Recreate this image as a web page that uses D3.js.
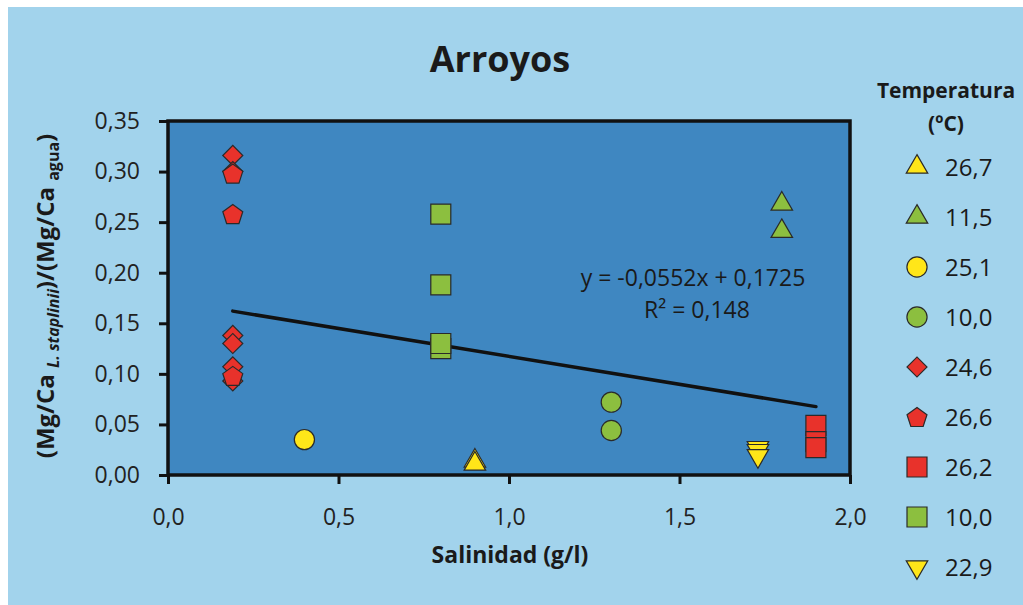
<!DOCTYPE html>
<html>
<head>
<meta charset="utf-8">
<script src="https://cdn.jsdelivr.net/npm/d3@7"></script>
<style>
  body { margin: 0; background: #fff; }
  svg { display: block; font-family: "Open Sans", "DejaVu Sans", sans-serif; }
</style>
</head>
<body>
<div id="chart"></div>
<script>
// legend order / labels
const legendLabels = ["26,7", "11,5", "25,1", "10,0", "24,6", "26,6", "26,2", "10,0", "22,9"];
const legendShapes = ["triUp", "triUp", "circle", "circle", "diamond", "pentagon", "square", "square", "triDown"];
const legendColors = ["yellow", "green", "yellow", "green", "red", "red", "red", "green", "yellow"];

// series values (salinity g/l, Mg/Ca ratio)
const s267x = [0.90, 0.90];
const s267y = [0.014, 0.011];
const s115x = [1.80, 1.80];
const s115y = [0.268, 0.241];
const s251x = [0.40];
const s251y = [0.035];
const s100cx = [1.30, 1.30];
const s100cy = [0.072, 0.044];
const s246x = [0.19, 0.19, 0.19, 0.19, 0.19, 0.19];
const s246y = [0.316, 0.300, 0.138, 0.130, 0.107, 0.093];
const s266x = [0.19, 0.19, 0.19];
const s266y = [0.298, 0.258, 0.098];
const s262x = [1.90, 1.90, 1.90];
const s262y = [0.049, 0.033, 0.027];
const s100sx = [0.80, 0.80, 0.80, 0.80];
const s100sy = [0.258, 0.188, 0.125, 0.130];
const s229x = [1.73, 1.73, 1.73];
const s229y = [0.027, 0.024, 0.019];

// trendline
const trendX = [0.19, 1.90];
const trendCoef = [-0.0552, 0.1725];

const xTicks = [0, 0.5, 1.0, 1.5, 2.0];
const yTicks = [0, 0.05, 0.10, 0.15, 0.20, 0.25, 0.30, 0.35];

const colors = { yellow: "#ffe619", green: "#8cbf3f", red: "#e8322b" };

const seriesList = [
  { x: s100sx, y: s100sy, shape: "square", color: "green" },
  { x: s246x, y: s246y, shape: "diamond", color: "red" },
  { x: s266x, y: s266y, shape: "pentagon", color: "red" },
  { x: s251x, y: s251y, shape: "circle", color: "yellow" },
  { x: s267x, y: s267y, shape: "triUp", color: "yellow" },
  { x: s115x, y: s115y, shape: "triUp", color: "green" },
  { x: s100cx, y: s100cy, shape: "circle", color: "green" },
  { x: s229x, y: s229y, shape: "triDown", color: "yellow" },
  { x: s262x, y: s262y, shape: "square", color: "red" }
];

const width = 1023;
const height = 605;
const plot = { left: 168, right: 850, top: 121, bottom: 475 };

const locale = d3.formatLocale({ decimal: ",", thousands: ".", grouping: [3], currency: ["", ""] });

function pentagonPath(r) {
  let pts = d3.range(5).map(function (i) {
    let a = -Math.PI / 2 + i * 2 * Math.PI / 5;
    return [r * Math.cos(a), r * Math.sin(a) + 1];
  });
  return "M" + pts.join("L") + "Z";
}

function shapePath(shape) {
  if (shape == "square") return d3.symbol().type(d3.symbolSquare).size(400)();
  if (shape == "diamond") return d3.symbol().type(d3.symbolSquare).size(200)();
  if (shape == "circle") return d3.symbol().type(d3.symbolCircle).size(320)();
  if (shape == "triUp" || shape == "triDown") return d3.symbol().type(d3.symbolTriangle).size(200)();
  return pentagonPath(10.5);
}

function shapeRotate(shape) {
  if (shape == "diamond") return " rotate(45)";
  if (shape == "triDown") return " rotate(180)";
  return "";
}

let xScale = d3.scaleLinear().domain([0, 2]).range([plot.left, plot.right]);
let yScale = d3.scaleLinear().domain([0, 0.35]).range([plot.bottom, plot.top]);

let svg = d3.select("#chart").append("svg")
  .attr("width", width)
  .attr("height", height);

svg.append("rect")
  .attr("x", 8).attr("y", 7)
  .attr("width", width - 8).attr("height", height - 7)
  .attr("fill", "#a2d3ec");

svg.append("rect")
  .attr("x", plot.left).attr("y", plot.top)
  .attr("width", plot.right - plot.left).attr("height", plot.bottom - plot.top)
  .attr("fill", "#3f87c1")
  .attr("stroke", "#111")
  .attr("stroke-width", 3.5);

let xAxis = d3.axisBottom(xScale).tickValues(xTicks)
  .tickFormat(locale.format(".1f")).tickSizeInner(9).tickSizeOuter(0).tickPadding(25);
let yAxis = d3.axisLeft(yScale).tickValues(yTicks)
  .tickFormat(locale.format(".2f")).tickSizeInner(9).tickSizeOuter(0).tickPadding(19);

let gx = svg.append("g")
  .attr("transform", "translate(0," + plot.bottom + ")")
  .call(xAxis);
let gy = svg.append("g")
  .attr("transform", "translate(" + plot.left + ",0)")
  .call(yAxis);

[gx, gy].forEach(function (g) {
  g.select(".domain").remove();
  g.selectAll(".tick line").attr("stroke", "#111").attr("stroke-width", 3);
  g.selectAll(".tick text")
    .attr("fill", "#222")
    .style("font-size", "23px")
    .style("font-family", "'Open Sans', sans-serif");
});

// trendline
svg.append("line")
  .attr("x1", xScale(trendX[0]))
  .attr("y1", yScale(trendCoef[0] * trendX[0] + trendCoef[1]))
  .attr("x2", xScale(trendX[1]))
  .attr("y2", yScale(trendCoef[0] * trendX[1] + trendCoef[1]))
  .attr("stroke", "#111")
  .attr("stroke-width", 3.5)
  .attr("stroke-linecap", "round");

// points
seriesList.forEach(function (s) {
  svg.append("g").selectAll("path")
    .data(s.x.map((v, i) => [v, s.y[i]]))
    .enter()
    .append("path")
    .attr("d", shapePath(s.shape))
    .attr("transform", (d) => "translate(" + xScale(d[0]) + "," + yScale(d[1]) + ")" + shapeRotate(s.shape))
    .attr("fill", colors[s.color])
    .attr("stroke", "#2a2a2a")
    .attr("stroke-width", 1.2);
});

// equation
svg.append("text")
  .attr("x", 693).attr("y", 286)
  .attr("text-anchor", "middle")
  .style("font-size", "23px")
  .attr("fill", "#1a1a1a")
  .text("y = -0,0552x + 0,1725");
svg.append("text")
  .attr("x", 697).attr("y", 318)
  .attr("text-anchor", "middle")
  .style("font-size", "23px")
  .attr("fill", "#1a1a1a")
  .text("R² = 0,148");

// title
svg.append("text")
  .attr("x", 500).attr("y", 72)
  .attr("text-anchor", "middle")
  .style("font-size", "36px")
  .style("font-weight", "bold")
  .attr("fill", "#1a1a1a")
  .text("Arroyos");

// x axis title
svg.append("text")
  .attr("x", 510).attr("y", 563)
  .attr("text-anchor", "middle")
  .style("font-size", "23px")
  .style("font-weight", "bold")
  .attr("fill", "#1a1a1a")
  .text("Salinidad (g/l)");

// y axis title
let yt = svg.append("text")
  .attr("transform", "translate(54,296) rotate(-90)")
  .attr("text-anchor", "middle")
  .style("font-size", "24px")
  .style("font-weight", "bold")
  .attr("fill", "#1a1a1a");
yt.append("tspan").text("(Mg/Ca ");
yt.append("tspan").attr("dy", 5).style("font-size", "16px").style("font-style", "italic").text("L. staplinii");
yt.append("tspan").attr("dy", -5).text(")/(Mg/Ca ");
yt.append("tspan").attr("dy", 5).style("font-size", "16px").text("agua");
yt.append("tspan").attr("dy", -5).text(")");

// legend
svg.append("text")
  .attr("x", 946).attr("y", 98)
  .attr("text-anchor", "middle")
  .style("font-size", "21px")
  .style("font-weight", "bold")
  .attr("fill", "#1a1a1a")
  .text("Temperatura");
svg.append("text")
  .attr("x", 946).attr("y", 131)
  .attr("text-anchor", "middle")
  .style("font-size", "21px")
  .style("font-weight", "bold")
  .attr("fill", "#1a1a1a")
  .text("(ºC)");

let legend = svg.append("g").selectAll("g")
  .data(legendLabels)
  .enter()
  .append("g")
  .attr("transform", (d, i) => "translate(917," + (167 + i * 50) + ")");

legend.append("path")
  .attr("d", (d, i) => shapePath(legendShapes[i]))
  .attr("transform", (d, i) => shapeRotate(legendShapes[i]))
  .attr("fill", (d, i) => colors[legendColors[i]])
  .attr("stroke", "#2a2a2a")
  .attr("stroke-width", 1.2);

legend.append("text")
  .attr("x", 28)
  .attr("dy", "0.36em")
  .style("font-size", "24px")
  .attr("fill", "#1a1a1a")
  .text((d) => d);
</script>
</body>
</html>
